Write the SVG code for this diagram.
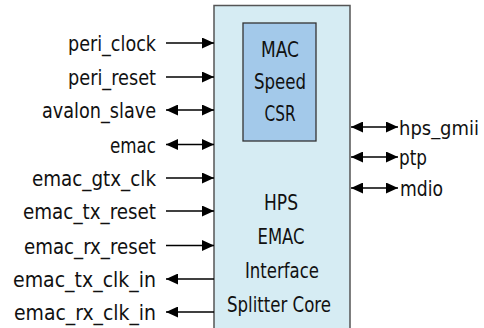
<svg xmlns="http://www.w3.org/2000/svg" width="484" height="328" viewBox="0 0 484 328">
<style>
  text { font-family: "Liberation Sans Narrow", "DejaVu Sans Condensed", "Liberation Sans", sans-serif; font-size: 22px; fill: #111; }
  .lbl { text-anchor: end; }
  .rl { text-anchor: start; }
  .ctr { text-anchor: middle; }
  .wire { stroke: #000; stroke-width: 1.5; fill: none; }
  .in { marker-end: url(#ah); }
  .bi { marker-start: url(#ah); marker-end: url(#ah); }
</style>
<defs>
  <marker id="ah" markerUnits="userSpaceOnUse" markerWidth="12" markerHeight="11" refX="12" refY="5.5" orient="auto-start-reverse">
    <path d="M0,0 L12,5.5 L0,11 z" fill="#000"/>
  </marker>
</defs>
<g id="core">
  <rect x="214" y="5.5" width="136" height="330" fill="#d6ecf3" stroke="#555" stroke-width="1.5"/>
  <text class="ctr" x="281" y="210" textLength="34" lengthAdjust="spacingAndGlyphs">HPS</text>
  <text class="ctr" x="281" y="244" textLength="47" lengthAdjust="spacingAndGlyphs">EMAC</text>
  <text class="ctr" x="282" y="278" textLength="74" lengthAdjust="spacingAndGlyphs">Interface</text>
  <text class="ctr" x="279" y="312" textLength="104" lengthAdjust="spacingAndGlyphs">Splitter Core</text>
</g>
<g id="csr">
  <rect x="243" y="23" width="73" height="118" fill="#a3c9ea" stroke="#333" stroke-width="1.3"/>
  <text class="ctr" x="280" y="57" textLength="38" lengthAdjust="spacingAndGlyphs">MAC</text>
  <text class="ctr" x="280" y="89" textLength="52" lengthAdjust="spacingAndGlyphs">Speed</text>
  <text class="ctr" x="280" y="121" textLength="31" lengthAdjust="spacingAndGlyphs">CSR</text>
</g>
<g id="connectors">
  <line class="wire in" x1="166" y1="43" x2="214" y2="43"/>
  <line class="wire in" x1="166" y1="77" x2="214" y2="77"/>
  <line class="wire bi" x1="166" y1="110" x2="214" y2="110"/>
  <line class="wire bi" x1="166" y1="144.5" x2="214" y2="144.5"/>
  <line class="wire in" x1="166" y1="178" x2="214" y2="178"/>
  <line class="wire in" x1="166" y1="211" x2="214" y2="211"/>
  <line class="wire in" x1="166" y1="245.5" x2="214" y2="245.5"/>
  <line class="wire in" x1="214" y1="279" x2="166" y2="279"/>
  <line class="wire in" x1="214" y1="312" x2="166" y2="312"/>
  <line class="wire bi" x1="351" y1="127" x2="398" y2="127"/>
  <line class="wire bi" x1="351" y1="157" x2="398" y2="157"/>
  <line class="wire bi" x1="351" y1="188" x2="398" y2="188"/>
</g>
<g id="labels-left">
  <text class="lbl" x="156" y="51" textLength="88" lengthAdjust="spacingAndGlyphs">peri_clock</text>
  <text class="lbl" x="156" y="85" textLength="88" lengthAdjust="spacingAndGlyphs">peri_reset</text>
  <text class="lbl" x="156" y="118" textLength="114" lengthAdjust="spacingAndGlyphs">avalon_slave</text>
  <text class="lbl" x="156" y="152.5" textLength="46" lengthAdjust="spacingAndGlyphs">emac</text>
  <text class="lbl" x="156" y="186" textLength="124" lengthAdjust="spacingAndGlyphs">emac_gtx_clk</text>
  <text class="lbl" x="156" y="219" textLength="133" lengthAdjust="spacingAndGlyphs">emac_tx_reset</text>
  <text class="lbl" x="156" y="253.5" textLength="132" lengthAdjust="spacingAndGlyphs">emac_rx_reset</text>
  <text class="lbl" x="156" y="287" textLength="143" lengthAdjust="spacingAndGlyphs">emac_tx_clk_in</text>
  <text class="lbl" x="156" y="320" textLength="142" lengthAdjust="spacingAndGlyphs">emac_rx_clk_in</text>
</g>
<g id="labels-right">
  <text class="rl" x="399" y="134.5" style="font-size:20px" textLength="80" lengthAdjust="spacingAndGlyphs">hps_gmii</text>
  <text class="rl" x="399" y="165" textLength="28" lengthAdjust="spacingAndGlyphs">ptp</text>
  <text class="rl" x="400" y="196" textLength="43" lengthAdjust="spacingAndGlyphs">mdio</text>
</g>
</svg>
